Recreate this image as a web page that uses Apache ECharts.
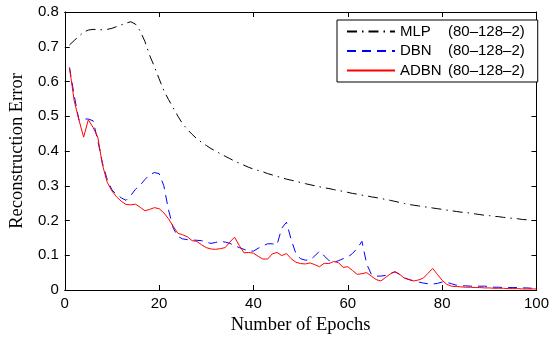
<!DOCTYPE html>
<html>
<head>
<meta charset="utf-8">
<script src="https://cdn.jsdelivr.net/npm/echarts@6/dist/echarts.min.js"></script>
<style>html,body{margin:0;padding:0;background:#fff}#c{width:552px;height:340px}</style>
</head>
<body>
<div id="c"></div>
<script>
var xTicks = [0, 20, 40, 60, 80, 100];
var yTicks = [0, 0.1, 0.2, 0.3, 0.4, 0.5, 0.6, 0.7, 0.8];
var epochs = Array.from({length: 100}, function (_, i) { return i + 1; });
var seriesNames = ['MLP', 'DBN', 'ADBN'];
var seriesSuffix = '(80\u2013128\u20132)';

var mlp = [
  0.705, 0.718, 0.730, 0.742, 0.748, 0.750, 0.749, 0.749, 0.750, 0.753,
  0.758, 0.763, 0.768, 0.772, 0.765, 0.745, 0.715, 0.675, 0.643, 0.608,
  0.574, 0.548, 0.524, 0.500, 0.478, 0.462, 0.448, 0.435, 0.425, 0.416,
  0.407, 0.400, 0.392, 0.385, 0.378, 0.371, 0.365, 0.359, 0.353, 0.348,
  0.344, 0.340, 0.335, 0.331, 0.327, 0.323, 0.319, 0.316, 0.313, 0.309,
  0.306, 0.303, 0.300, 0.297, 0.294, 0.292, 0.289, 0.286, 0.284, 0.281,
  0.278, 0.276, 0.273, 0.271, 0.268, 0.266, 0.263, 0.261, 0.258, 0.255,
  0.252, 0.249, 0.246, 0.244, 0.242, 0.240, 0.238, 0.236, 0.234, 0.232,
  0.230, 0.228, 0.226, 0.224, 0.223, 0.221, 0.219, 0.217, 0.215, 0.214,
  0.212, 0.211, 0.209, 0.208, 0.206, 0.205, 0.203, 0.202, 0.200, 0.199
];
var dbn = [
  0.640, 0.560, 0.489, 0.492, 0.492, 0.487, 0.430, 0.365, 0.318, 0.288,
  0.275, 0.265, 0.258, 0.272, 0.290, 0.302, 0.318, 0.332, 0.338, 0.335,
  0.300, 0.230, 0.178, 0.154, 0.147, 0.145, 0.144, 0.143, 0.142, 0.138,
  0.134, 0.137, 0.140, 0.138, 0.134, 0.128, 0.122, 0.117, 0.112, 0.112,
  0.120, 0.127, 0.133, 0.133, 0.130, 0.178, 0.195, 0.145, 0.105, 0.090,
  0.086, 0.086, 0.098, 0.112, 0.098, 0.085, 0.080, 0.084, 0.090, 0.095,
  0.105, 0.120, 0.140, 0.075, 0.045, 0.040, 0.040, 0.042, 0.048, 0.052,
  0.045, 0.035, 0.030, 0.026, 0.023, 0.020, 0.018, 0.017, 0.019, 0.023,
  0.022, 0.018, 0.014, 0.012, 0.012, 0.011, 0.011, 0.011, 0.011, 0.010,
  0.008, 0.008, 0.007, 0.007, 0.007, 0.007, 0.006, 0.006, 0.005, 0.005
];
var adbn = [
  0.640, 0.545, 0.490, 0.440, 0.490, 0.468, 0.440, 0.360, 0.310, 0.285,
  0.268, 0.255, 0.246, 0.245, 0.247, 0.238, 0.228, 0.232, 0.237, 0.234,
  0.222, 0.205, 0.183, 0.163, 0.159, 0.153, 0.142, 0.140, 0.130, 0.122,
  0.118, 0.117, 0.119, 0.122, 0.138, 0.152, 0.128, 0.107, 0.108, 0.106,
  0.097, 0.089, 0.089, 0.104, 0.108, 0.099, 0.105, 0.090, 0.080, 0.076,
  0.075, 0.078, 0.073, 0.067, 0.077, 0.076, 0.082, 0.079, 0.065, 0.067,
  0.056, 0.045, 0.047, 0.050, 0.040, 0.030, 0.026, 0.036, 0.046, 0.053,
  0.045, 0.034, 0.030, 0.026, 0.029, 0.034, 0.048, 0.062, 0.045, 0.028,
  0.016, 0.011, 0.010, 0.009, 0.008, 0.008, 0.007, 0.007, 0.006, 0.006,
  0.005, 0.005, 0.005, 0.004, 0.004, 0.004, 0.003, 0.003, 0.003, 0.003
];

function pairs(vals) { return epochs.map(function (e, i) { return [e, vals[i]]; }); }

var tickFont = 'Liberation Sans, Arial, Helvetica, sans-serif';
var titleFont = 'Liberation Serif, Times New Roman, serif';

function xAx(pos, showLabel) {
  return {
    type: 'value', position: pos, min: xTicks[0], max: xTicks[xTicks.length - 1],
    interval: xTicks[1] - xTicks[0],
    axisLine: {show: true, onZero: false, lineStyle: {color: '#000', width: 1}},
    axisTick: {show: true, inside: true, length: 5, lineStyle: {color: '#000'}},
    axisLabel: {show: showLabel, color: '#000', fontSize: 15, fontFamily: tickFont, margin: 6},
    splitLine: {show: false}
  };
}
function yAx(pos, showLabel) {
  return {
    type: 'value', position: pos, min: yTicks[0], max: yTicks[yTicks.length - 1],
    interval: 0.1,
    axisLine: {show: true, onZero: false, lineStyle: {color: '#000', width: 1}},
    axisTick: {show: true, inside: true, length: 5, lineStyle: {color: '#000'}},
    axisLabel: {show: showLabel, color: '#000', fontSize: 15, fontFamily: tickFont, margin: 6,
      formatter: function (v) { return v === 0 ? '0' : v.toFixed(1); }},
    splitLine: {show: false}
  };
}

var xBottom = xAx('bottom', true);
xBottom.name = 'Number of Epochs';
xBottom.nameLocation = 'middle';
xBottom.nameGap = 26;
xBottom.nameTextStyle = {fontFamily: titleFont, fontSize: 18.5, color: '#000'};
var yLeft = yAx('left', true);
yLeft.name = 'Reconstruction Error';
yLeft.nameLocation = 'middle';
yLeft.nameGap = 32;
yLeft.nameTextStyle = {fontFamily: titleFont, fontSize: 18.5, color: '#000'};

var chart = echarts.init(document.getElementById('c'), null, {renderer: 'canvas'});
chart.setOption({
  animation: false,
  backgroundColor: '#fff',
  grid: {left: 60, right: 14, top: 12, bottom: 43, containLabel: false},
  xAxis: [xBottom, xAx('top', false)],
  yAxis: [yLeft, yAx('right', false)],
  legend: {
    orient: 'vertical', left: 337, top: 20,
    backgroundColor: '#fff', borderColor: '#000', borderWidth: 1,
    padding: [4, 13, 4, 9], itemGap: 4.5, itemWidth: 48, itemHeight: 14,
    itemStyle: {opacity: 0, borderWidth: 0},
    data: seriesNames,
    formatter: function (n) { return '{n|' + n + '}{p|' + seriesSuffix + '}'; },
    textStyle: {color: '#000', fontSize: 15, fontFamily: tickFont, lineHeight: 15,
      rich: {n: {width: 48, fontSize: 15, fontFamily: tickFont, color: '#000'},
             p: {fontSize: 15, fontFamily: tickFont, color: '#000'}}}
  },
  series: [
    {name: seriesNames[0], type: 'line', data: pairs(mlp), symbol: 'none', z: 3,
     lineStyle: {color: '#000', width: 1, type: [10, 5, 1.5, 5]}, itemStyle: {color: '#000'}},
    {name: seriesNames[1], type: 'line', data: pairs(dbn), symbol: 'none', z: 2,
     lineStyle: {color: '#0000ff', width: 1, type: [9, 6]}, itemStyle: {color: '#0000ff'}},
    {name: seriesNames[2], type: 'line', data: pairs(adbn), symbol: 'none', z: 4,
     lineStyle: {color: '#ff0000', width: 1, type: 'solid'}, itemStyle: {color: '#ff0000'}}
  ]
});
</script>
</body>
</html>
